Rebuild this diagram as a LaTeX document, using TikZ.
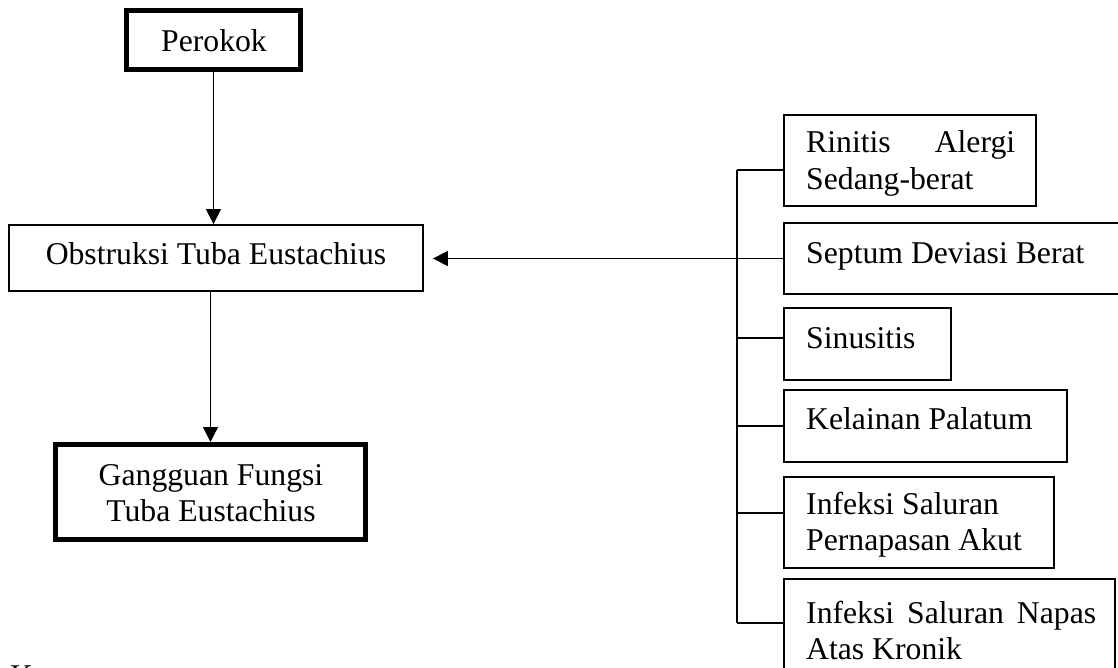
\documentclass[tikz,border=0pt]{standalone}
\usepackage{fontspec}
\setmainfont{Liberation Serif}
\usetikzlibrary{arrows.meta}
\begin{document}
\begin{tikzpicture}[x=1pt,y=-1pt,
  thinbox/.style={draw, line width=1.8pt, inner sep=0pt, rectangle},
  thickbox/.style={draw, line width=5pt, inner sep=0pt, rectangle},
  txt/.style={inner sep=0pt, font=\fontsize{31.7}{36.8}\selectfont,
    execute at begin node={\spaceskip=.25em\xspaceskip=.25em\relax}},
  conn/.style={line width=1.3pt},
  arr/.style={line width=1.3pt, -{Triangle[length=15pt,width=15pt]}}]
\useasboundingbox (0,0) rectangle (1118,668);
% left column boxes
\node[thickbox, minimum width=174pt, minimum height=59pt] (perokok) at (213.5,40) {};
\node[thinbox, minimum width=414pt, minimum height=66pt] (obstruksi) at (216,258) {};
\node[thickbox, minimum width=310pt, minimum height=95pt] (gangguan) at (210.5,492) {};
% right column boxes
\node[thinbox, minimum width=252pt, minimum height=91pt] (rinitis) at (910,160.5) {};
\node[thinbox, minimum width=345pt, minimum height=71pt] (septum) at (956.5,258.5) {};
\node[thinbox, minimum width=167pt, minimum height=72pt] (sinusitis) at (867.5,344) {};
\node[thinbox, minimum width=283pt, minimum height=72pt] (kelainan) at (925.5,426) {};
\node[thinbox, minimum width=270pt, minimum height=91pt] (ispa) at (919,522.5) {};
\node[thinbox, minimum width=331pt, minimum height=110pt] (isnak) at (949.5,634) {};
% texts
\node[txt, anchor=base] (tperokok) at (214,52) {Perokok};
\node[txt, anchor=base] (tobstruksi) at (216,265) {Obstruksi Tuba Eustachius};
\node[txt, anchor=base, text width=300pt, align=center] (tgangguan) at (211,485) {\spaceskip=.25em\xspaceskip=.25em\relax Gangguan Fungsi\\Tuba Eustachius};
\node[txt, anchor=base west, text width=209pt, align=left] (trinitis) at (806,153) {Rinitis\hfill Alergi\\Sedang-berat};
\node[txt, anchor=base west] (tseptum) at (806,263) {Septum Deviasi Berat};
\node[txt, anchor=base west] (tsinusitis) at (806,348) {Sinusitis};
\node[txt, anchor=base west] (tkelainan) at (806,429) {Kelainan Palatum};
\node[txt, anchor=base west, text width=260pt, align=left] (tispa) at (806,514) {Infeksi Saluran\\Pernapasan Akut};
\node[txt, anchor=base west, text width=290pt, align=left] (tisnak) at (806,623) {Infeksi\hfill Saluran\hfill Napas\\Atas Kronik};
\node[txt, anchor=base west] (tket) at (10,686) {Keterangan :};
% connectors left
\draw[arr] (perokok.south) -- (perokok.south |- obstruksi.north);
\draw[arr] (obstruksi.south -| gangguan.north) -- (gangguan.north);
\coordinate (tipL) at ([xshift=9pt]obstruksi.east);
\draw[arr] (septum.west) -- (tipL |- septum.west);
% spine and branches
\coordinate (spinetop) at (737,170);
\coordinate (spinebot) at (737,623);
\draw[conn] (spinetop) -- (spinebot);
\coordinate (b1) at ([yshift=-9.5pt]rinitis.west);
\coordinate (b3) at ([yshift=6pt]sinusitis.west);
\coordinate (b4) at (kelainan.west);
\coordinate (b5) at ([yshift=9.5pt]ispa.west);
\coordinate (b6) at ([yshift=11pt]isnak.west);
\draw[conn] (b1) -- (b1 -| spinetop);
\draw[conn] (b3) -- (b3 -| spinetop);
\draw[conn] (b4) -- (b4 -| spinetop);
\draw[conn] (b5) -- (b5 -| spinetop);
\draw[conn] (b6) -- (b6 -| spinetop);
\end{tikzpicture}
\end{document}
